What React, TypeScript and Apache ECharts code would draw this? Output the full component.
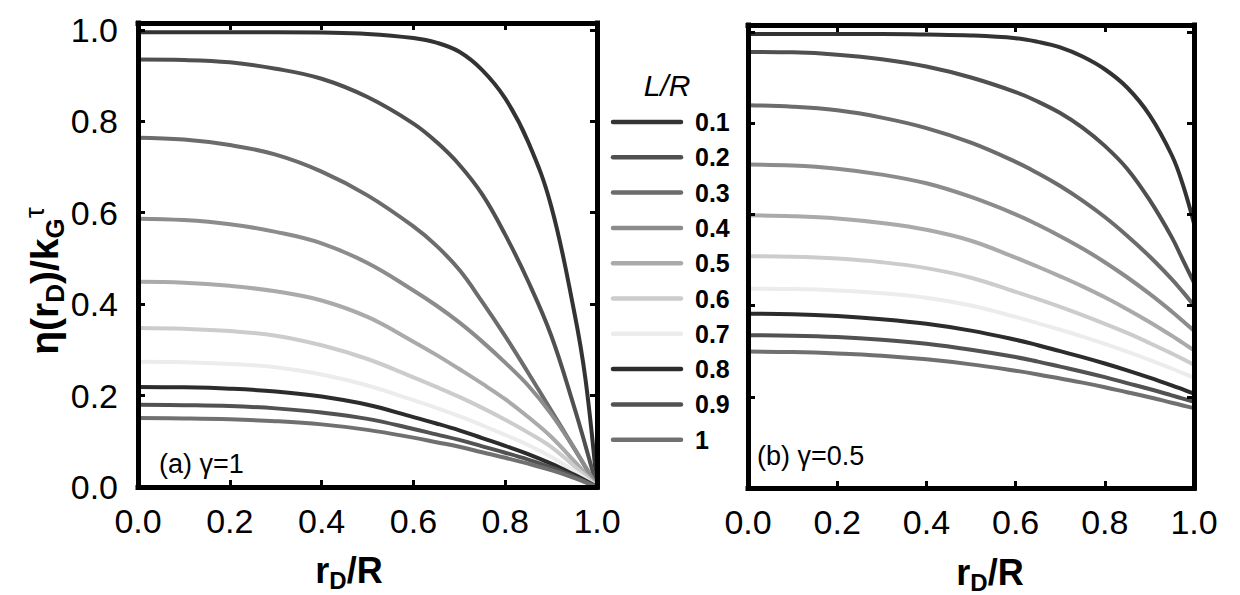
import React, { useEffect, useRef } from 'react';
import * as echarts from 'echarts';

// ---------- data ----------
const X_VALUES = [0, 0.1, 0.2, 0.3, 0.4, 0.5, 0.6, 0.65, 0.7, 0.75, 0.8, 0.85, 0.9, 0.95, 0.975, 1];
const LR_LABELS = ['0.1', '0.2', '0.3', '0.4', '0.5', '0.6', '0.7', '0.8', '0.9', '1'];
const LINE_COLORS = ['#333333', '#505050', '#6c6c6c', '#8c8c8c', '#aaaaaa', '#cccccc', '#ececec', '#2c2c2c', '#525252', '#707070'];
const X_TICK_STEP = 0.2;
const Y_TICK_STEP = 0.2;

// panel (a) gamma = 1
const A_L01 = [0.995, 0.995, 0.995, 0.995, 0.994, 0.991, 0.982, 0.972, 0.952, 0.912, 0.85, 0.755, 0.615, 0.385, 0.235, 0];
const A_L02 = [0.935, 0.934, 0.929, 0.915, 0.893, 0.853, 0.795, 0.755, 0.705, 0.64, 0.552, 0.45, 0.332, 0.176, 0.09, 0];
const A_L03 = [0.764, 0.76, 0.748, 0.727, 0.69, 0.638, 0.57, 0.528, 0.475, 0.405, 0.33, 0.25, 0.168, 0.085, 0.043, 0];
const A_L04 = [0.587, 0.584, 0.575, 0.558, 0.533, 0.49, 0.43, 0.397, 0.36, 0.318, 0.272, 0.222, 0.16, 0.085, 0.044, 0];
const A_L05 = [0.449, 0.447, 0.44, 0.428, 0.408, 0.372, 0.318, 0.289, 0.258, 0.226, 0.192, 0.153, 0.11, 0.057, 0.029, 0];
const A_L06 = [0.348, 0.346, 0.341, 0.331, 0.31, 0.28, 0.24, 0.219, 0.197, 0.173, 0.147, 0.119, 0.088, 0.046, 0.024, 0];
const A_L07 = [0.274, 0.273, 0.269, 0.262, 0.246, 0.222, 0.19, 0.173, 0.155, 0.135, 0.114, 0.092, 0.066, 0.035, 0.018, 0];
const A_L08 = [0.219, 0.218, 0.215, 0.209, 0.198, 0.18, 0.153, 0.139, 0.124, 0.107, 0.09, 0.072, 0.051, 0.027, 0.014, 0];
const A_L09 = [0.18, 0.179, 0.177, 0.172, 0.163, 0.149, 0.127, 0.115, 0.103, 0.089, 0.075, 0.06, 0.043, 0.023, 0.012, 0];
const A_L10 = [0.151, 0.15, 0.148, 0.144, 0.137, 0.125, 0.108, 0.098, 0.088, 0.076, 0.064, 0.051, 0.037, 0.02, 0.01, 0];

// panel (b) gamma = 0.5
const B_L01 = [0.995, 0.995, 0.995, 0.995, 0.994, 0.992, 0.986, 0.978, 0.966, 0.946, 0.918, 0.878, 0.818, 0.73, 0.665, 0.58];
const B_L02 = [0.956, 0.955, 0.95, 0.94, 0.924, 0.9, 0.868, 0.847, 0.822, 0.79, 0.75, 0.7, 0.632, 0.55, 0.5, 0.45];
const B_L03 = [0.839, 0.836, 0.828, 0.812, 0.789, 0.757, 0.715, 0.69, 0.662, 0.63, 0.594, 0.553, 0.508, 0.458, 0.43, 0.4];
const B_L04 = [0.709, 0.707, 0.7, 0.687, 0.668, 0.638, 0.6, 0.577, 0.552, 0.525, 0.495, 0.462, 0.426, 0.387, 0.366, 0.345];
const B_L05 = [0.598, 0.596, 0.591, 0.581, 0.566, 0.542, 0.505, 0.485, 0.464, 0.442, 0.418, 0.392, 0.364, 0.334, 0.318, 0.302];
const B_L06 = [0.508, 0.507, 0.503, 0.495, 0.482, 0.461, 0.43, 0.414, 0.397, 0.379, 0.36, 0.34, 0.318, 0.295, 0.283, 0.27];
const B_L07 = [0.437, 0.436, 0.433, 0.427, 0.417, 0.4, 0.375, 0.361, 0.347, 0.332, 0.316, 0.299, 0.281, 0.262, 0.252, 0.242];
const B_L08 = [0.382, 0.381, 0.377, 0.37, 0.36, 0.345, 0.325, 0.313, 0.3, 0.287, 0.273, 0.258, 0.242, 0.225, 0.216, 0.207];
const B_L09 = [0.335, 0.334, 0.331, 0.325, 0.316, 0.303, 0.287, 0.277, 0.266, 0.255, 0.243, 0.23, 0.217, 0.203, 0.196, 0.189];
const B_L10 = [0.299, 0.298, 0.295, 0.29, 0.282, 0.271, 0.257, 0.249, 0.24, 0.231, 0.221, 0.21, 0.199, 0.187, 0.181, 0.175];

const PANEL_A = [A_L01, A_L02, A_L03, A_L04, A_L05, A_L06, A_L07, A_L08, A_L09, A_L10];
const PANEL_B = [B_L01, B_L02, B_L03, B_L04, B_L05, B_L06, B_L07, B_L08, B_L09, B_L10];

// ---------- styling ----------
const FONT = '"Liberation Sans", Arial, sans-serif';

function buildOption() {
  const grids = [
    { left: 138, top: 23, width: 459, height: 464 },
    { left: 748, top: 25, width: 446, height: 463 },
  ];
  const axisLine = { show: true, onZero: false, lineStyle: { color: '#000', width: 5, cap: 'square' } };
  const axisTick = { show: true, inside: true, length: 7, lineStyle: { color: '#000', width: 3 } };
  const xAxis: any[] = [];
  const yAxis: any[] = [];
  grids.forEach((_, gi) => {
    xAxis.push({
      gridIndex: gi, type: 'value', min: 0, max: 1, interval: X_TICK_STEP, position: 'bottom', z: 5,
      axisLine, axisTick, splitLine: { show: false },
      axisLabel: { show: true, fontSize: 34, color: '#000', fontFamily: FONT, margin: 17, formatter: (v: number) => v.toFixed(1) },
    });
    xAxis.push({
      gridIndex: gi, type: 'value', min: 0, max: 1, interval: X_TICK_STEP, position: 'top', z: 5,
      axisLine, axisTick, splitLine: { show: false }, axisLabel: { show: false },
    });
    yAxis.push({
      gridIndex: gi, type: 'value', min: 0, max: 1.015, interval: Y_TICK_STEP, position: 'left', z: 5,
      axisLine, axisTick, splitLine: { show: false },
      axisLabel: { show: gi === 0, showMaxLabel: false, fontSize: 34, color: '#000', fontFamily: FONT, margin: 20, formatter: (v: number) => v.toFixed(1) },
    });
    yAxis.push({
      gridIndex: gi, type: 'value', min: 0, max: 1.015, interval: Y_TICK_STEP, position: 'right', z: 5,
      axisLine, axisTick, splitLine: { show: false }, axisLabel: { show: false },
    });
  });

  const series: any[] = [];
  [PANEL_A, PANEL_B].forEach((panel, gi) => {
    panel.forEach((vals, i) => {
      series.push({
        name: `${gi === 0 ? 'a' : 'b'} L/R=${LR_LABELS[i]}`,
        type: 'line',
        xAxisIndex: gi * 2,
        yAxisIndex: gi * 2,
        data: X_VALUES.map((x, k) => [x, vals[k]]),
        smooth: 0.4,
        showSymbol: false,
        symbol: 'none',
        lineStyle: { color: LINE_COLORS[i], width: 4 },
        z: 2,
      });
    });
  });

  const legendTop = 122;
  const legendStep = 35.3;
  const graphic: any[] = [];
  graphic.push({
    type: 'text', x: 667, y: 85,
    style: { text: 'L/R', fontSize: 30, fontStyle: 'italic', fontFamily: FONT, fill: '#000', align: 'center', verticalAlign: 'middle', textAlign: 'center', textVerticalAlign: 'middle' },
  });
  LR_LABELS.forEach((lab, i) => {
    const yy = legendTop + i * legendStep;
    graphic.push({
      type: 'line', shape: { x1: 613, y1: yy, x2: 681, y2: yy },
      style: { stroke: LINE_COLORS[i], lineWidth: 4.5, lineCap: 'round' },
    });
    graphic.push({
      type: 'text', x: 695, y: yy,
      style: { text: lab, fontSize: 25, fontWeight: 'bold', fontFamily: FONT, fill: '#000', align: 'left', verticalAlign: 'middle', textAlign: 'left', textVerticalAlign: 'middle' },
    });
  });

  const yTitleRich = {
    m: { fontSize: 39, fontWeight: 'bold', fontFamily: FONT, fill: '#000', color: '#000', lineHeight: 48 },
    s: { fontSize: 26, fontWeight: 'bold', fontFamily: FONT, fill: '#000', color: '#000', lineHeight: 24, verticalAlign: 'bottom' },
    t: { fontSize: 28, fontWeight: 'normal', fontFamily: FONT, fill: '#000', color: '#000', lineHeight: 28, verticalAlign: 'top' },
  };
  const xTitleRich = {
    m: { fontSize: 36, fontWeight: 'bold', fontFamily: FONT, fill: '#000', color: '#000', lineHeight: 44 },
    s: { fontSize: 24, fontWeight: 'bold', fontFamily: FONT, fill: '#000', color: '#000', lineHeight: 22, verticalAlign: 'bottom' },
  };
  graphic.push({
    type: 'text', x: 44, y: 281, rotation: Math.PI / 2,
    style: { text: '{m|η(r}{s|D}{m|)/k}{s|G}{t|τ}', rich: yTitleRich, align: 'center', verticalAlign: 'middle', textAlign: 'center', textVerticalAlign: 'middle' },
  });
  graphic.push({
    type: 'text', x: 349, y: 570,
    style: { text: '{m|r}{s|D}{m|/R}', rich: xTitleRich, align: 'center', verticalAlign: 'middle', textAlign: 'center', textVerticalAlign: 'middle' },
  });
  graphic.push({
    type: 'text', x: 990, y: 572,
    style: { text: '{m|r}{s|D}{m|/R}', rich: xTitleRich, align: 'center', verticalAlign: 'middle', textAlign: 'center', textVerticalAlign: 'middle' },
  });
  graphic.push({
    type: 'text', x: 159, y: 464,
    style: { text: '(a) γ=1', fontSize: 27, fontFamily: FONT, fill: '#000', align: 'left', verticalAlign: 'middle', textAlign: 'left', textVerticalAlign: 'middle' },
  });
  graphic.push({
    type: 'text', x: 757, y: 456,
    style: { text: '(b) γ=0.5', fontSize: 27, fontFamily: FONT, fill: '#000', align: 'left', verticalAlign: 'middle', textAlign: 'left', textVerticalAlign: 'middle' },
  });

  return {
    animation: false,
    backgroundColor: '#fff',
    grid: grids.map((g) => ({ ...g, containLabel: false })),
    xAxis,
    yAxis,
    series,
    graphic,
  };
}

export default function App() {
  const ref = useRef<HTMLDivElement>(null);
  useEffect(() => {
    if (!ref.current) return;
    const chart = echarts.init(ref.current, undefined, { renderer: 'svg' });
    chart.setOption(buildOption() as any);
    return () => chart.dispose();
  }, []);
  return (
    <div
      ref={ref}
      style={{ position: 'fixed', left: 0, top: 0, width: 1240, height: 595, background: '#fff' }}
    />
  );
}
